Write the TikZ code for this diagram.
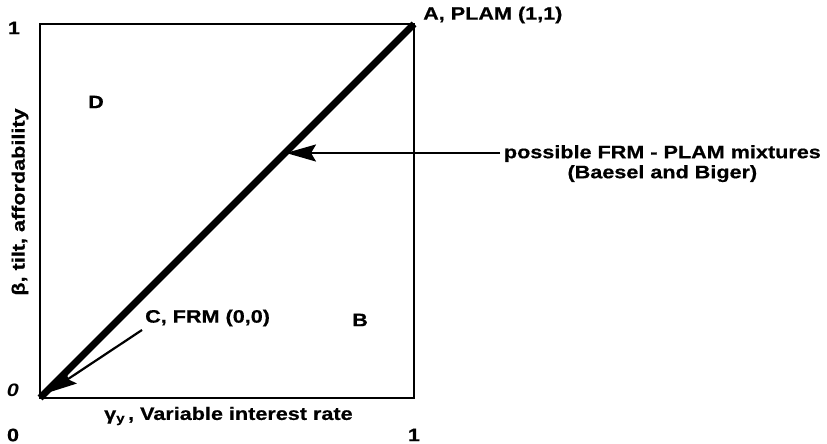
\documentclass[tikz,border=0pt]{standalone}
\usepackage{fontspec}
\setmainfont{Liberation Sans}[FakeStretch=1.2, BoldFeatures={FakeBold=0.6}]
\usetikzlibrary{arrows.meta}
\begin{document}
\begin{tikzpicture}[x=1pt,y=1pt,
  lbl/.style={font=\bfseries\fontsize{18}{20}\selectfont, inner sep=0pt},
  arr/.style={line width=2.2pt, -{Stealth[length=30pt,width=17pt,inset=5pt]}}]
\useasboundingbox (0,0) rectangle (827,444);
\coordinate (O) at (40,46);
\coordinate (A) at (414,420);
\draw[line width=2.6pt] (40,46) rectangle (414,420);
\draw[line width=7pt] (O) -- (A);
\node[lbl] (one) at (14,416) {1};
\node[lbl] (zero) at (13,54) {\itshape 0};
\node[lbl] (xzero) at (13,9) {0};
\node[lbl] (xone) at (414,9) {1};
\node[lbl] (D) at (96,342) {D};
\node[lbl] (B) at (360,124) {B};
\node[lbl, anchor=west] (Alab) at (423,429) {A, PLAM (1,1)};
\node[lbl, anchor=west] (Clab) at (145,126) {C, FRM (0,0)};
\node[lbl, rotate=90] (ylab) at (20,242) {β, tilt, affordability};
\node[lbl, anchor=west] (xlab) at (104,28) {γ\textsubscript{y}\,, Variable interest rate};
\node[lbl, align=center, anchor=north east] (mix) at (821,299) {possible FRM - PLAM mixtures\\(Baesel and Biger)};
\coordinate (mixtip) at (286,291);
\coordinate (mixstart) at (500,291);
\draw[arr] (mixstart) -- (mixtip);
\coordinate (cstart) at (142,114);
\coordinate (ctip) at (47,51);
\draw[arr] (cstart) -- (ctip);
\end{tikzpicture}
\end{document}
